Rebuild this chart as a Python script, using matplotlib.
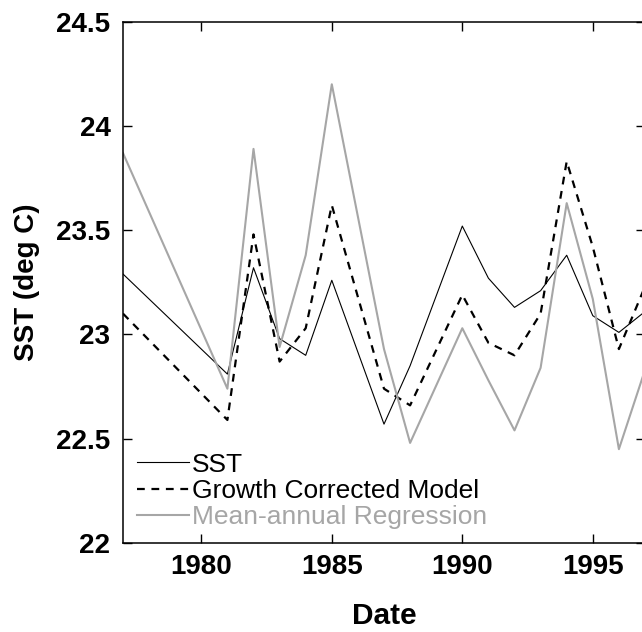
import matplotlib
matplotlib.use("Agg")
import matplotlib.pyplot as plt

plt.rcParams.update({
    "font.family": ["Liberation Sans", "DejaVu Sans"],
    "axes.linewidth": 1.1,
    "xtick.direction": "in",
    "ytick.direction": "in",
    "xtick.major.size": 6.5,
    "ytick.major.size": 6.5,
    "xtick.major.width": 1.0,
    "ytick.major.width": 1.0,
})

GRAY = "#a6a6a6"

years = [1977, 1981, 1982, 1983, 1984, 1985, 1987, 1988,
         1990, 1991, 1992, 1993, 1994, 1995, 1996, 1997]
sst = [23.29, 22.81, 23.32, 22.98, 22.90, 23.26, 22.57, 22.85,
       23.52, 23.27, 23.13, 23.21, 23.38, 23.09, 23.01, 23.11]
growth_model = [23.10, 22.59, 23.48, 22.87, 23.03, 23.62, 22.74, 22.66,
                23.19, 22.96, 22.90, 23.10, 23.83, 23.42, 22.93, 23.23]
regression = [23.87, 22.74, 23.89, 22.94, 23.38, 24.20, 22.93, 22.48,
              23.03, 22.78, 22.54, 22.84, 23.63, 23.17, 22.45, 22.83]

x_ticks = [1980, 1985, 1990, 1995]
y_ticks = [22, 22.5, 23, 23.5, 24, 24.5]
y_tick_labels = ["22", "22.5", "23", "23.5", "24", "24.5"]

fig = plt.figure(figsize=(6.42, 6.32), dpi=100)
ax = fig.add_axes([123 / 642, 89 / 632, 522 / 642, 521.3 / 632])

ax.plot(years, sst, color="black", linewidth=0.8, label="SST")
ax.plot(years, growth_model, color="black", linewidth=1.6,
        dashes=(3.5, 3), label="Growth Corrected Model")
ax.plot(years, regression, color=GRAY, linewidth=1.5,
        label="Mean-annual Regression")

ax.set_xlim(1977, 1997)
ax.set_ylim(22, 24.5)
ax.set_xticks(x_ticks)
ax.set_yticks(y_ticks)
ax.set_yticklabels(y_tick_labels)
ax.tick_params(top=True, right=True, labelsize=20, pad=9)
ax.tick_params(axis="x", pad=8)
for lbl in ax.get_xticklabels() + ax.get_yticklabels():
    lbl.set_fontweight("bold")

ax.set_xlabel("Date", fontsize=21.5, fontweight="bold", labelpad=16)
ax.set_ylabel("SST (deg C)", fontsize=20, fontweight="bold")
ax.yaxis.set_label_coords(-83 / 522, 0.5)

ax.legend(loc="lower left", bbox_to_anchor=(0.0, 0.0), frameon=False,
          fontsize=19, handlelength=1.97, handletextpad=0.11,
          labelspacing=0.09, borderaxespad=0.12, labelcolor="linecolor")

fig.savefig("out.png", dpi=100)
